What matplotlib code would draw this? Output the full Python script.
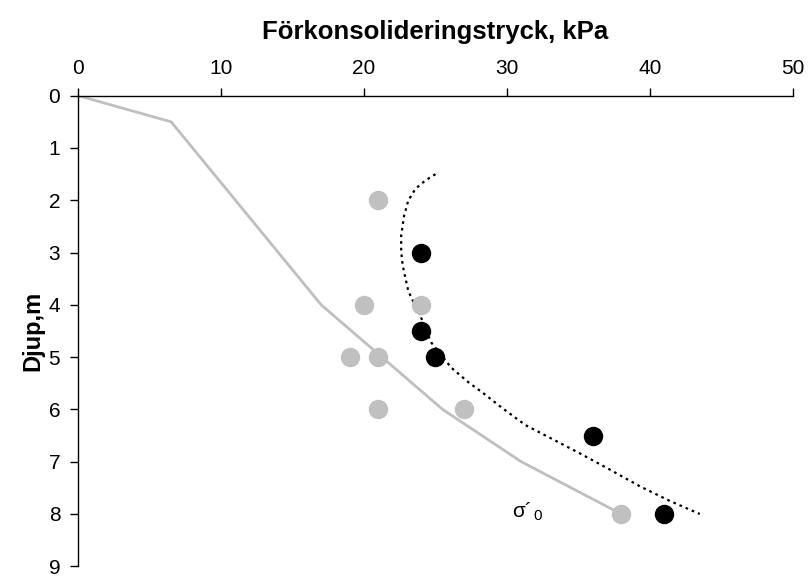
import matplotlib.pyplot as plt

plt.rcParams['font.family'] = ['Liberation Sans', 'DejaVu Sans']

# sigma'0 line
sig_x = [0, 6.5, 17, 25.5, 31, 38]
sig_y = [0, 0.5, 4, 6, 7, 8]

# grey points
grey_x = [21, 20, 24, 19, 21, 21, 27, 38]
grey_y = [2, 4, 4, 5, 5, 6, 6, 8]

# black points
black_x = [24, 24, 25, 36, 41]
black_y = [3, 4.5, 5, 6.5, 8]

# dotted trend line
trend_x = [25.0, 24.3, 23.6, 23.1, 22.8, 22.6, 22.6, 22.7, 23.1, 24.0, 24.7, 26.1, 27.3,
           28.3, 29.7, 31.3, 33.2, 35.1, 37.2, 39.3, 41.4, 43.5]
trend_y = [1.5, 1.62, 1.78, 2.0, 2.3, 2.67, 2.98, 3.24, 3.74, 4.25, 4.72, 5.2, 5.48,
           5.68, 5.98, 6.3, 6.57, 6.84, 7.15, 7.47, 7.75, 8.0]

fig = plt.figure(figsize=(8.09, 5.79), dpi=100)
ax = fig.add_axes([0.0968, 0.022, 0.883, 0.8127])

ax.plot(sig_x, sig_y, color='#BFBFBF', lw=2, zorder=2)
ax.plot(trend_x, trend_y, color='black', lw=1.6, ls=(0, (1.2, 1.8)), zorder=3)
ax.plot(grey_x, grey_y, 'o', color='#C0C0C0', ms=14, mec='none', zorder=4)
ax.plot(black_x, black_y, 'o', color='black', ms=14, mec='none', zorder=5)

ax.text(30.35, 7.95, "σ´", fontsize=15, ha='left', va='center')
ax.text(31.85, 8.03, "0", fontsize=11, ha='left', va='center')

ax.set_xlim(0, 50)
ax.set_ylim(9, 0)
ax.xaxis.tick_top()
ax.xaxis.set_label_position('top')
ax.set_xticks([0, 10, 20, 30, 40, 50])
ax.set_yticks(range(10))
ax.tick_params(labelsize=15, length=6, width=1, direction='out')
ax.tick_params(axis='x', pad=7)
ax.tick_params(axis='y', pad=7)
ax.set_xlabel("Förkonsolideringstryck, kPa", fontsize=18.5, fontweight='bold', labelpad=14)
ax.set_ylabel("Djup,m", fontsize=17, fontweight='bold', labelpad=3)
for s in ['right', 'bottom']:
    ax.spines[s].set_visible(False)
for s in ['left', 'top']:
    ax.spines[s].set_linewidth(1)

fig.savefig('out.png', dpi=100)
